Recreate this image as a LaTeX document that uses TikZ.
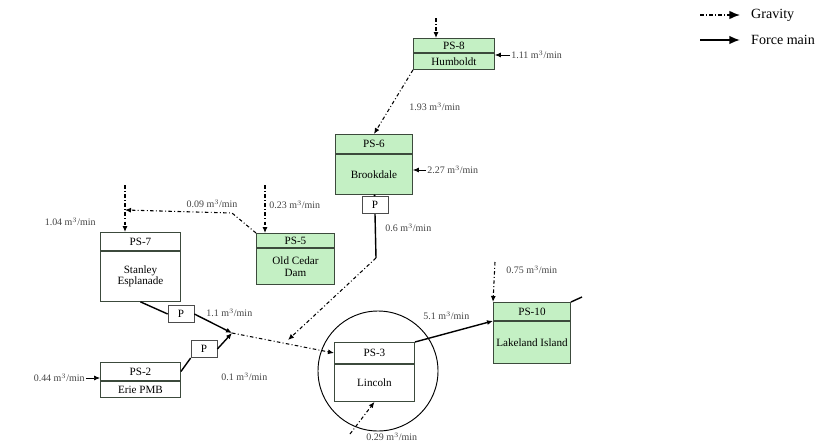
\documentclass[tikz,border=0pt]{standalone}
\usepackage{fontspec}
\setmainfont{Liberation Serif}
\usetikzlibrary{arrows.meta, positioning, calc}
\definecolor{stgreen}{HTML}{C4F0C4}
\definecolor{stline}{HTML}{3C4A3C}
\definecolor{lblgrey}{HTML}{444444}

\begin{document}
\begin{tikzpicture}[
    x=0.03cm, y=-0.03cm,
    font=\fontsize{9.5}{10}\selectfont,
    >={Latex[length=1.8mm,width=1.5mm]},
    every node/.style={align=center},
    hdr/.style={draw=stline, line width=0.8pt, inner sep=1pt, anchor=north west},
    body/.style={draw=stline, line width=0.8pt, inner sep=1pt, anchor=north},
    pbox/.style={draw=black!70, line width=0.6pt, fill=white, minimum width=0.78cm, minimum height=0.52cm, inner sep=1pt},
    grav/.style={line width=0.9pt, dash pattern=on 3pt off 2pt on 0.8pt off 2pt},
    force/.style={line width=1.2pt},
    flow/.style={font=\fontsize{8.5}{9}\selectfont, text=lblgrey, inner sep=1pt},
    legtext/.style={font=\fontsize{12}{14}\selectfont, anchor=west, inner sep=0pt},
    legtip/.style={-{Latex[length=3.2mm,width=2.6mm]}},
]
\useasboundingbox (0,0) rectangle (818,445);

% station: name, top-left corner, width, header height, body height, fill, id, place
\newcommand{\station}[8]{%
    \node[hdr, fill=#6, minimum width=#3, minimum height=#4] (#1) at #2 {#7};
    \node[body, fill=#6, minimum width=#3, minimum height=#5] (#1b) at (#1.south) {#8};
}

% ================= STATIONS =================
\station{ps8}{(413,38)}{2.43cm}{0.42cm}{0.48cm}{stgreen}{PS-8}{Humboldt}
\station{ps6}{(335,134)}{2.31cm}{0.57cm}{1.2cm}{stgreen}{PS-6}{Brookdale}
\station{ps7}{(100,232)}{2.4cm}{0.54cm}{1.5cm}{white}{PS-7}{Stanley\\Esplanade}
\station{ps5}{(256,233)}{2.34cm}{0.42cm}{1.08cm}{stgreen}{PS-5}{Old Cedar\\Dam}
\station{ps2}{(100,362)}{2.4cm}{0.54cm}{0.48cm}{white}{PS-2}{Erie PMB}
\station{ps3}{(334,342)}{2.4cm}{0.63cm}{1.11cm}{white}{PS-3}{Lincoln}
\station{ps10}{(493,302)}{2.31cm}{0.54cm}{1.26cm}{stgreen}{PS-10}{Lakeland Island}

% pumps
\node[pbox] (p6) at (375,205) {P};
\node[pbox] (p7) at (181,314) {P};
\node[pbox] (p2) at (204,349) {P};

% highlight round PS-3
\node[draw, circle, line width=0.8pt, minimum size=3.6cm] (hl) at (378,371) {};

% ================= FREE ENDS =================
\coordinate (c8top) at (436,18);
\coordinate (c7top) at (125,185);
\coordinate (c7in) at (125,210);
\coordinate (c5bend) at (232,213);
\coordinate (c5top) at (265,185);
\coordinate (cj6) at (376,258);
\coordinate (cmid) at (288,340);
\coordinate (cmerge) at (232,333);
\coordinate (c10top) at (495,262);
\coordinate (c10out) at (582,297);
\coordinate (c3bot) at (350,434);

% ================= FLOW LABELS =================
\node[flow, anchor=west] (l111) at (510,55) {1.11 m$^3$/min};
\node[flow, anchor=west] (l193) at (408,107) {1.93 m$^3$/min};
\node[flow, anchor=west] (l227) at (426,170) {2.27 m$^3$/min};
\node[flow, anchor=west] (l06) at (384,228) {0.6 m$^3$/min};
\node[flow, anchor=east] (l104) at (97,222) {1.04 m$^3$/min};
\node[flow] (l009) at (212,204) {0.09 m$^3$/min};
\node[flow, anchor=west] (l023) at (268,205) {0.23 m$^3$/min};
\node[flow, anchor=west] (l11) at (205,313) {1.1 m$^3$/min};
\node[flow, anchor=east] (l044) at (86,378) {0.44 m$^3$/min};
\node[flow, anchor=west] (l01) at (220,377) {0.1 m$^3$/min};
\node[flow, anchor=west] (l51) at (422,316) {5.1 m$^3$/min};
\node[flow, anchor=west] (l075) at (505,270) {0.75 m$^3$/min};
\node[flow, anchor=west] (l029) at (365,437) {0.29 m$^3$/min};

% ================= CONNECTORS =================
\draw[grav, ->] (c8top) -- (c8top |- ps8.north);
\draw[->, line width=0.6pt] (l111.west) -- (ps8b.east |- l111.west);
\draw[grav, ->] (ps8b.south west) -- (ps6.north);
\draw[->, line width=0.6pt] (l227.west) -- (ps6b.east |- l227.west);
\draw[force] (ps6b.south) -- (p6.north);
\draw[force] (p6.south) -- (cj6);
\draw[grav, ->] (cj6) -- (cmid);

\draw[grav, ->] (c7top) -- (c7top |- ps7.north);
\draw[grav, ->] (ps5.north west) -- (c5bend) -- (c7in);
\draw[grav, ->] (c5top) -- (c5top |- ps5.north);

\draw[force] (ps7b.south) -- (p7.west);
\draw[force, ->] (p7.east) -- (cmerge);
\draw[->, line width=0.6pt] (l044.east) -- (ps2.west |- l044.east);
\draw[force] (ps2.east) -- (p2.south west);
\draw[force, ->] (p2.east) -- (cmerge);
\draw[grav, ->] (cmerge) -- (ps3.west);

\draw[grav, ->] (c3bot) -- (ps3b.south);
\draw[force, ->] (ps3.north east) -- (ps10.south west);
\draw[grav, ->] (c10top) -- (ps10.north west);
\draw[force] (ps10.north east) -- (c10out);

% ================= LEGEND =================
\coordinate (lg1a) at (700,15);
\coordinate (lg1b) at (740,15);
\coordinate (lg2a) at (700,40);
\coordinate (lg2b) at (740,40);
\draw[grav, legtip, line width=1.3pt] (lg1a) -- (lg1b);
\draw[force, legtip, line width=1.5pt] (lg2a) -- (lg2b);
\node[legtext] (lgg) at (751,15) {Gravity};
\node[legtext] (lgf) at (751,40) {Force main};

\end{tikzpicture}
\end{document}
